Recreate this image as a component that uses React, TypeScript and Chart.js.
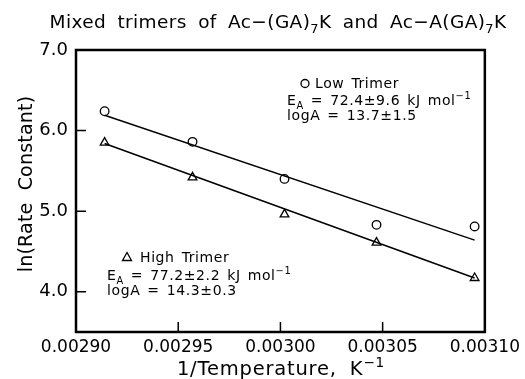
import React, { useEffect, useRef } from "react";
import { Chart, registerables } from "chart.js";

Chart.register(...registerables);

// ---- data ----
const invTemperature = [0.002914, 0.002957, 0.003002, 0.003047, 0.003095];
const lowTrimer = [6.24, 5.86, 5.4, 4.83, 4.81];
const highTrimer = [5.85, 5.42, 4.96, 4.61, 4.17];
const fitX = [0.002914, 0.003095];
const lowFit = [6.19, 4.64];
const highFit = [5.84, 4.17];
const xTicks = [0.0029, 0.00295, 0.003, 0.00305, 0.0031];
const yTicks = [4.0, 5.0, 6.0, 7.0];

type Seg = { t: string; sub?: boolean; sup?: boolean };

const FAMILY = "'DejaVu Sans', sans-serif";

function drawRich(
  ctx: CanvasRenderingContext2D,
  segs: Seg[],
  x: number,
  y: number,
  size: number,
  align: "left" | "center",
  ls: number,
  ws: number
) {
  const setFont = (s: Seg) => {
    const fs = s.sub || s.sup ? size * 0.7 : size;
    ctx.font = `${fs}px ${FAMILY}`;
    (ctx as any).letterSpacing = `${ls}px`;
    (ctx as any).wordSpacing = `${ws}px`;
  };
  let total = 0;
  for (const s of segs) {
    setFont(s);
    total += ctx.measureText(s.t).width;
  }
  let cx = align === "center" ? x - total / 2 : x;
  ctx.textAlign = "left";
  ctx.textBaseline = "alphabetic";
  for (const s of segs) {
    setFont(s);
    const dy = s.sub ? size * 0.28 : s.sup ? -size * 0.42 : 0;
    ctx.fillText(s.t, cx, y + dy);
    cx += ctx.measureText(s.t).width;
  }
  (ctx as any).letterSpacing = "0px";
  (ctx as any).wordSpacing = "0px";
}

const decorPlugin = {
  id: "decor",
  afterDraw(chart: any) {
    const ctx: CanvasRenderingContext2D = chart.ctx;
    const { left, right, top, bottom } = chart.chartArea;
    const xs = chart.scales.x;
    const ys = chart.scales.y;
    ctx.save();
    ctx.fillStyle = "#000";
    ctx.strokeStyle = "#000";

    // frame
    ctx.lineWidth = 2.5;
    ctx.strokeRect(left, top, right - left, bottom - top);

    // inward ticks
    ctx.lineWidth = 1.5;
    ctx.beginPath();
    for (const v of yTicks) {
      const py = ys.getPixelForValue(v);
      ctx.moveTo(left, py);
      ctx.lineTo(left + 10, py);
    }
    for (const v of xTicks) {
      const px = xs.getPixelForValue(v);
      ctx.moveTo(px, bottom);
      ctx.lineTo(px, bottom - 10);
    }
    ctx.stroke();

    // title
    drawRich(
      ctx,
      [
        { t: "Mixed trimers of Ac\u2212(GA)" },
        { t: "7", sub: true },
        { t: "K and Ac\u2212A(GA)" },
        { t: "7", sub: true },
        { t: "K" },
      ],
      278,
      28,
      18.5,
      "center",
      0.4,
      5
    );

    // x title
    drawRich(
      ctx,
      [{ t: "1/Temperature, K" }, { t: "\u22121", sup: true }],
      281,
      375,
      19.5,
      "center",
      0.8,
      6
    );

    // y title
    ctx.save();
    ctx.translate(32, 184);
    ctx.rotate(-Math.PI / 2);
    drawRich(ctx, [{ t: "ln(Rate Constant)" }], 0, 0, 19, "center", 0.2, 6);
    ctx.restore();

    // Low trimer annotation
    const fs = 14;
    const ls = 0.6;
    const ws = 2;
    ctx.lineWidth = 1.3;
    ctx.beginPath();
    ctx.arc(305, 83.5, 4, 0, Math.PI * 2);
    ctx.stroke();
    drawRich(ctx, [{ t: "Low Trimer" }], 315, 88, fs, "left", ls, ws);
    drawRich(
      ctx,
      [
        { t: "E" },
        { t: "A", sub: true },
        { t: " = 72.4\u00b19.6 kJ mol" },
        { t: "\u22121", sup: true },
      ],
      287,
      105,
      fs,
      "left",
      ls,
      ws
    );
    drawRich(ctx, [{ t: "logA = 13.7\u00b11.5" }], 287, 120, fs, "left", ls, ws);

    // High trimer annotation
    ctx.beginPath();
    ctx.moveTo(127, 252.5);
    ctx.lineTo(131.5, 260.5);
    ctx.lineTo(122.5, 260.5);
    ctx.closePath();
    ctx.stroke();
    drawRich(ctx, [{ t: "High Trimer" }], 140, 262, fs, "left", ls, ws);
    drawRich(
      ctx,
      [
        { t: "E" },
        { t: "A", sub: true },
        { t: " = 77.2\u00b12.2 kJ mol" },
        { t: "\u22121", sup: true },
      ],
      107,
      280,
      fs,
      "left",
      ls,
      ws
    );
    drawRich(ctx, [{ t: "logA = 14.3\u00b10.3" }], 107, 295, fs, "left", ls, ws);

    ctx.restore();
  },
};

export default function App() {
  const ref = useRef<HTMLCanvasElement | null>(null);

  useEffect(() => {
    document.body.style.margin = "0";
    const canvas = ref.current!;
    const chart = new Chart(canvas, {
      type: "scatter",
      data: {
        datasets: [
          {
            label: "Low Trimer",
            data: invTemperature.map((x, i) => ({ x, y: lowTrimer[i] })),
            pointStyle: "circle",
            pointRadius: 4.3,
            pointBorderWidth: 1.3,
            borderColor: "#000",
            backgroundColor: "rgba(0,0,0,0)",
            showLine: false,
          },
          {
            label: "High Trimer",
            data: invTemperature.map((x, i) => ({ x, y: highTrimer[i] })),
            pointStyle: "triangle",
            pointRadius: 5,
            pointBorderWidth: 1.3,
            borderColor: "#000",
            backgroundColor: "rgba(0,0,0,0)",
            showLine: false,
          },
          {
            label: "Low fit",
            data: fitX.map((x, i) => ({ x, y: lowFit[i] })),
            showLine: true,
            pointRadius: 0,
            borderColor: "#000",
            borderWidth: 1.5,
          },
          {
            label: "High fit",
            data: fitX.map((x, i) => ({ x, y: highFit[i] })),
            showLine: true,
            pointRadius: 0,
            borderColor: "#000",
            borderWidth: 1.5,
          },
        ],
      },
      options: {
        animation: false,
        responsive: false,
        devicePixelRatio: 1,
        layout: { padding: { left: 0, right: 37, top: 50, bottom: 0 } },
        plugins: {
          legend: { display: false },
          tooltip: { enabled: false },
          title: { display: false },
        },
        scales: {
          x: {
            type: "linear",
            min: 0.0029,
            max: 0.0031,
            afterBuildTicks: (s: any) => {
              s.ticks = xTicks.map((v) => ({ value: v }));
            },
            afterFit: (s: any) => {
              s.height = 47;
            },
            grid: { display: false, drawTicks: false },
            border: { display: false },
            ticks: {
              autoSkip: false,
              maxRotation: 0,
              padding: 5,
              color: "#000",
              font: { family: FAMILY, size: 17 },
              callback: (v: any) => Number(v).toFixed(5),
            },
          },
          y: {
            type: "linear",
            min: 3.5,
            max: 7.0,
            afterBuildTicks: (s: any) => {
              s.ticks = yTicks.map((v) => ({ value: v }));
            },
            afterFit: (s: any) => {
              s.width = 76;
            },
            grid: { display: false, drawTicks: false },
            border: { display: false },
            ticks: {
              autoSkip: false,
              padding: 8,
              color: "#000",
              font: { family: FAMILY, size: 18 },
              callback: (v: any) => Number(v).toFixed(1),
            },
          },
        },
      },
      plugins: [decorPlugin],
    });
    return () => chart.destroy();
  }, []);

  return (
    <div style={{ position: "absolute", left: 0, top: 0, width: 525, height: 379, background: "#fff" }}>
      <canvas ref={ref} width={525} height={379} style={{ width: 525, height: 379 }} />
    </div>
  );
}
